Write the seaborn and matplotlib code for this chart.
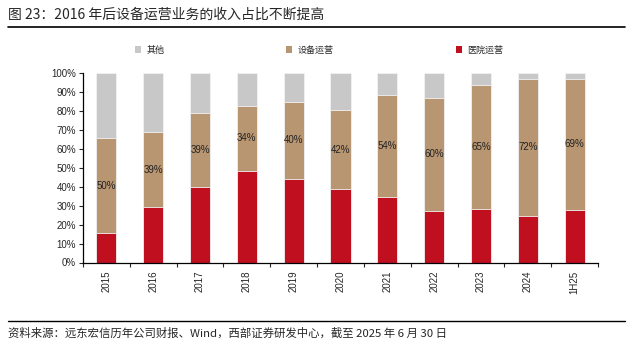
import matplotlib
matplotlib.use("Agg")
import matplotlib.pyplot as plt
import seaborn as sns
import pandas as pd
import numpy as np
from matplotlib.patches import Patch
from matplotlib.lines import Line2D

sns.set_style("ticks")
plt.rcParams['font.family'] = ['Noto Sans CJK SC', 'DejaVu Sans']

categories = ["2015", "2016", "2017", "2018", "2019", "2020", "2021", "2022", "2023", "2024", "1H25"]
hospital = [15.5, 29.2, 39.9, 48.2, 44.1, 38.5, 34.6, 27.1, 28.1, 24.6, 27.8]
equipment = [50.1, 39.3, 39.0, 34.4, 40.4, 42.0, 53.8, 59.7, 65.6, 72.1, 69.0]
labels = ["50%", "39%", "39%", "34%", "40%", "42%", "54%", "60%", "65%", "72%", "69%"]
series_names = ["其他", "设备运营", "医院运营"]

c_other = "#C8C8C8"
c_equip = "#B99672"
c_hosp = "#C00F1F"

df = pd.DataFrame({"year": categories, "hospital": hospital, "equipment": equipment})
df["cum_equip"] = df["hospital"] + df["equipment"]
df["total"] = 100.0

fig = plt.figure(figsize=(6.33, 3.46), dpi=100)
ax = fig.add_axes([83/633, 1 - 262.5/346, (598-83)/633, (262.5-72.7)/346])

w = 0.43
sns.barplot(data=df, x="year", y="total", color=c_other, width=w, ax=ax,
            saturation=1, edgecolor="#f2f2f2", linewidth=0.6)
sns.barplot(data=df, x="year", y="cum_equip", color=c_equip, width=w, ax=ax,
            saturation=1, edgecolor="#f2f2f2", linewidth=0.6)
sns.barplot(data=df, x="year", y="hospital", color=c_hosp, width=w, ax=ax,
            saturation=1, edgecolor="#f2f2f2", linewidth=0.6)

num_font = ["Liberation Sans", "DejaVu Sans"]
for i, (h, e, lab) in enumerate(zip(hospital, equipment, labels)):
    ax.text(i, h + e / 2, lab, ha="center", va="center", fontsize=7,
            color="#222222", family=num_font)

ax.set_xlim(-0.5, len(categories) - 0.5)
ax.set_ylim(0, 100)
ax.set_yticks(np.arange(0, 101, 10))
ax.set_yticklabels([f"{v}%" for v in range(0, 101, 10)], fontsize=7, family=num_font)
ax.set_xticks(range(len(categories)))
ax.set_xticklabels(categories, rotation=90, fontsize=7, family=num_font)
ax.tick_params(axis="x", length=0, pad=6)
ax.set_xticks(np.arange(-0.5, len(categories), 1), minor=True)
ax.tick_params(axis="x", which="minor", length=3, width=0.8, direction="out")
ax.tick_params(axis="y", length=3, width=0.8, direction="out", pad=2)
ax.set_xlabel("")
ax.set_ylabel("")
for s in ["top", "right"]:
    ax.spines[s].set_visible(False)
for s in ["left", "bottom"]:
    ax.spines[s].set_linewidth(0.9)
    ax.spines[s].set_color("black")

# Title
fig.text(8/633, 1 - 15/346, "图 23：2016 年后设备运营业务的收入占比不断提高",
         fontsize=10, va="center", ha="left")
fig.add_artist(Line2D([8/633, 625/633], [1 - 27/346, 1 - 27/346], color="black", lw=1.2))

# Legend
handles = [Patch(facecolor=c, edgecolor="none") for c in [c_other, c_equip, c_hosp]]
fig.legend(handles, series_names, loc="center", bbox_to_anchor=(319/633, 1 - 50/346),
           ncol=3, frameon=False, fontsize=6.5, handlelength=0.7, handleheight=0.7,
           handletextpad=0.6, columnspacing=13.5)

# Source
fig.add_artist(Line2D([8/633, 625/633], [1 - 321/346, 1 - 321/346], color="black", lw=1.0))
fig.text(8/633, 1 - 333/346,
         "资料来源：远东宏信历年公司财报、Wind，西部证券研发中心，截至 2025 年 6 月 30 日",
         fontsize=8.2, va="center", ha="left")

fig.savefig("out.png", dpi=100)
